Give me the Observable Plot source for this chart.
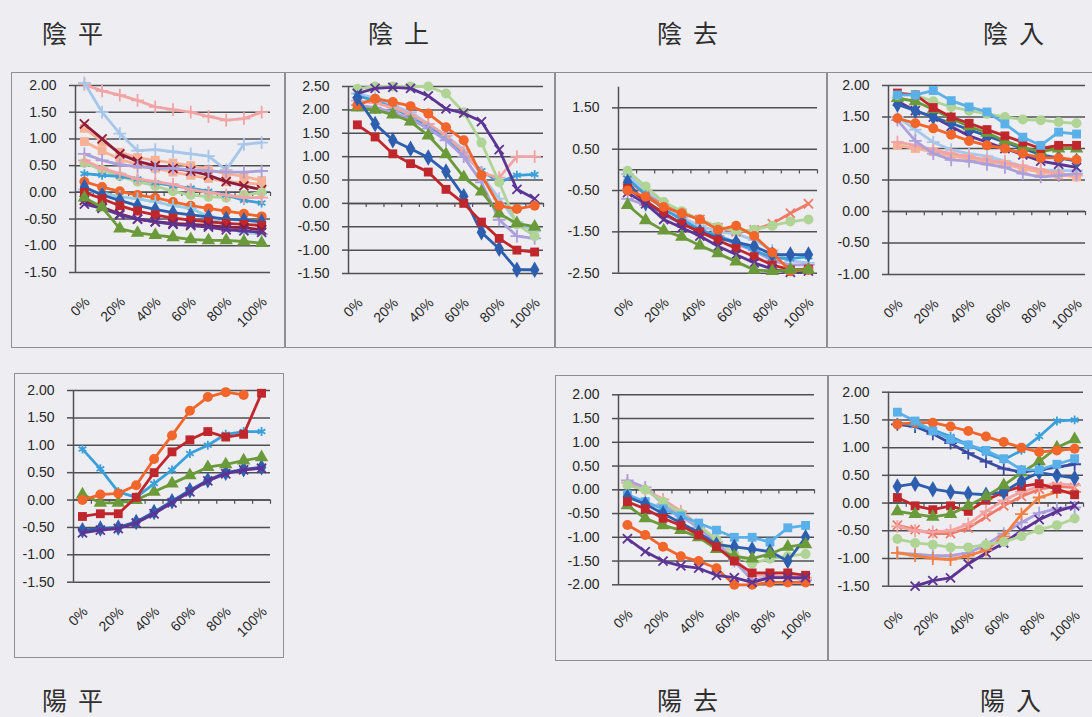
<!DOCTYPE html>
<html><head><meta charset="utf-8">
<script src="https://cdn.jsdelivr.net/npm/d3@7"></script>
<script src="https://cdn.jsdelivr.net/npm/@observablehq/plot@0.6"></script>
<style>
html,body{margin:0;padding:0}
body{background:#eeeef2;width:1092px;height:717px;overflow:hidden;position:relative;font-family:"Liberation Sans",Arial,sans-serif}
.panel{position:absolute;outline:1px solid #8f8f94}
.panel svg{display:block}
.title{position:absolute;font-family:"Noto Sans CJK TC","Noto Sans CJK JP",sans-serif;font-size:25px;line-height:25px;letter-spacing:11px;color:#2e2e2e;white-space:nowrap}
</style></head><body>
<script>
// ---- data ----
const toneNames = ["陰平","陰上","陰去","陰入","陽平","陽去","陽入"];
const xLabels = ["0%","10%","20%","30%","40%","50%","60%","70%","80%","90%","100%"];
const xLabelIdx = [0, 2, 4, 6, 8, 10];
const catEdges = [0.5, 1.5, 2.5, 3.5, 4.5, 5.5, 6.5, 7.5, 8.5, 9.5, 10.5];

const yinPingKeys = ["pink","ltblue","peach","peach","maroon","lavender","ltgreen","aqua","pink","orange","ltaqua","blue","red","maroon","purple","green"];
const yinPingValues = [
  [2.02, 1.9, 1.82, 1.72, 1.6, 1.55, 1.5, 1.42, 1.35, 1.38, 1.5],
  [2.05, 1.5, 1.1, 0.78, 0.8, 0.76, 0.72, 0.68, 0.42, 0.9, 0.93],
  [1.2, 0.95, 0.75, 0.65, 0.6, 0.55, 0.5, 0.42, 0.35, 0.3, 0.22],
  [0.95, 0.78, 0.62, 0.52, 0.45, 0.38, 0.32, 0.26, 0.2, 0.18, 0.15],
  [1.28, 1.0, 0.72, 0.58, 0.5, 0.45, 0.4, 0.32, 0.2, 0.12, 0.05],
  [0.72, 0.6, 0.52, 0.48, 0.45, 0.45, 0.42, 0.4, 0.38, 0.38, 0.4],
  [0.55, 0.42, 0.3, 0.2, 0.12, 0.02, -0.05, -0.08, -0.1, -0.05, 0.0],
  [0.35, 0.32, 0.3, 0.25, 0.18, 0.12, 0.08, 0.02, -0.05, -0.15, -0.2],
  [0.6, 0.45, 0.35, 0.25, 0.2, 0.15, 0.05, 0.0, -0.05, -0.1, -0.1],
  [0.2, 0.1, 0.02, -0.05, -0.1, -0.18, -0.25, -0.3, -0.35, -0.4, -0.45],
  [0.05, -0.02, -0.08, -0.12, -0.18, -0.25, -0.3, -0.45, -0.6, -0.75, -0.78],
  [0.1, -0.05, -0.15, -0.25, -0.32, -0.38, -0.42, -0.46, -0.5, -0.52, -0.55],
  [0.0, -0.12, -0.25, -0.35, -0.42, -0.48, -0.52, -0.55, -0.58, -0.6, -0.62],
  [-0.15, -0.28, -0.4, -0.5, -0.55, -0.58, -0.6, -0.62, -0.65, -0.66, -0.7],
  [-0.22, -0.3, -0.42, -0.5, -0.55, -0.6, -0.62, -0.65, -0.7, -0.72, -0.75],
  [-0.1, -0.28, -0.68, -0.76, -0.8, -0.84, -0.88, -0.9, -0.9, -0.92, -0.95]
];

const yinShangKeys = ["ltblue","aqua","pink","lavender","ltgreen","green","purple","orange","blue","red"];
const yinShangValues = [
  [2.35, 2.25, 2.1, 1.95, 1.7, 1.45, 1.15, 0.6, 0.1, -0.4, -0.6],
  [2.3, 2.2, 2.05, 1.85, 1.65, 1.4, 1.05, 0.7, 0.45, 0.6, 0.62],
  [2.2, 2.15, 2.05, 1.9, 1.7, 1.45, 1.1, 0.65, 0.55, 1.0, 1.0],
  [2.1, 2.05, 1.95, 1.8, 1.6, 1.35, 1.0, 0.45, -0.35, -0.7, -0.75],
  [2.45, 2.5, 2.5, 2.5, 2.5, 2.35, 1.95, 1.3, 0.45, -0.45, -0.7],
  [2.05, 2.0, 1.9, 1.75, 1.45, 1.05, 0.56, 0.25, -0.22, -0.43, -0.5],
  [2.35, 2.46, 2.48, 2.46, 2.3, 2.02, 1.93, 1.75, 1.15, 0.3, 0.1],
  [2.1, 2.24, 2.17, 2.08, 1.92, 1.63, 1.35, 0.6, -0.05, -0.12, -0.05],
  [2.25, 1.7, 1.35, 1.17, 0.98, 0.68, 0.15, -0.62, -0.97, -1.42, -1.42],
  [1.68, 1.42, 1.06, 0.85, 0.67, 0.3, 0.0, -0.4, -0.75, -1.0, -1.04]
];

const yinQuKeys = ["ltblue","lavender","salmon","ltgreen","aqua","blue","red","purple","orange","green"];
const yinQuValues = [
  [-0.1, -0.5, -0.85, -1.15, -1.35, -1.5, -1.55, -1.7, -1.95, -2.2, -2.25],
  [-0.7, -0.85, -1.1, -1.3, -1.45, -1.6, -1.8, -1.95, -2.2, -2.3, -2.3],
  [-0.25, -0.6, -0.85, -1.05, -1.2, -1.4, -1.5, -1.45, -1.3, -1.05, -0.82],
  [-0.02, -0.4, -0.78, -1.0, -1.2, -1.38, -1.48, -1.45, -1.35, -1.25, -1.2],
  [-0.2, -0.6, -0.95, -1.2, -1.45, -1.6, -1.75, -1.95, -2.12, -2.15, -2.1],
  [-0.3, -0.8, -1.05, -1.3, -1.5, -1.65, -1.75, -1.85, -2.05, -2.05, -2.05],
  [-0.45, -0.75, -1.05, -1.3, -1.5, -1.7, -1.9, -2.1, -2.3, -2.42, -2.4],
  [-0.55, -0.82, -1.2, -1.4, -1.6, -1.85, -2.05, -2.25, -2.4, -2.48, -2.45],
  [-0.5, -0.65, -0.9, -1.05, -1.2, -1.45, -1.35, -1.6, -2.0, -2.45, -2.42],
  [-0.85, -1.22, -1.47, -1.62, -1.83, -2.02, -2.22, -2.42, -2.45, -2.42, -2.42]
];

const yinRuKeys = ["ltblue","peach","pink","lavender","purple","blue","green","ltgreen","red","skysq","orange"];
const yinRuValues = [
  [1.5, 1.3, 1.1, 0.98, 0.92, 0.88, 0.8, 0.72, 0.66, 0.65, 0.65],
  [1.05, 1.0, 0.95, 0.88, 0.84, 0.8, 0.75, 0.68, 0.62, 0.58, 0.55],
  [1.1, 1.05, 0.98, 0.92, 0.87, 0.82, 0.77, 0.72, 0.66, 0.6, 0.57],
  [1.45, 1.12, 0.92, 0.82, 0.8, 0.75, 0.7, 0.6, 0.55, 0.57, 0.6],
  [1.75, 1.6, 1.5, 1.35, 1.2, 1.1, 1.0, 0.9, 0.8, 0.75, 0.7],
  [1.7, 1.6, 1.5, 1.4, 1.3, 1.2, 1.1, 1.0, 0.9, 0.85, 0.8],
  [1.8, 1.75, 1.62, 1.48, 1.35, 1.25, 1.12, 1.02, 0.95, 1.0, 1.0],
  [1.85, 1.85, 1.75, 1.66, 1.6, 1.55, 1.5, 1.46, 1.45, 1.42, 1.4],
  [1.88, 1.85, 1.65, 1.5, 1.4, 1.3, 1.2, 1.1, 1.0, 1.05, 1.05],
  [1.85, 1.85, 1.92, 1.76, 1.66, 1.58, 1.39, 1.18, 1.05, 1.26, 1.23],
  [1.48, 1.4, 1.32, 1.22, 1.12, 1.05, 1.0, 0.92, 0.85, 0.85, 0.82]
];

const yangPingKeys = ["blue","purple","green","aqua","orange","red"];
const yangPingValues = [
  [-0.55, -0.52, -0.5, -0.4, -0.22, -0.02, 0.18, 0.36, 0.5, 0.56, 0.6],
  [-0.6, -0.55, -0.52, -0.42, -0.25, -0.05, 0.15, 0.35, 0.48, 0.55, 0.58],
  [0.1, -0.05, -0.05, 0.0, 0.15, 0.3, 0.45, 0.6, 0.65, 0.72, 0.78],
  [0.93, 0.57, 0.15, 0.05, 0.3, 0.55, 0.85, 1.0, 1.2, 1.25, 1.25],
  [0.0, 0.1, 0.12, 0.27, 0.75, 1.18, 1.63, 1.88, 1.97, 1.92, null],
  [-0.3, -0.25, -0.25, 0.05, 0.5, 0.88, 1.1, 1.25, 1.15, 1.2, 1.95]
];

const yangQuKeys = ["pink","lavender","ltgreen","skysq","blue","green","red","orange","purple"];
const yangQuValues = [
  [0.15, 0.0, -0.2, -0.45, -0.75, -1.1, -1.45, -1.8, -1.8, -1.82, -1.85],
  [0.2, 0.05, -0.3, -0.55, -0.8, -1.1, -1.5, -1.9, -1.85, -1.85, -1.9],
  [0.1, 0.0, -0.25, -0.5, -0.75, -1.05, -1.35, -1.55, -1.45, -1.4, -1.35],
  [-0.1, -0.25, -0.4, -0.55, -0.7, -0.85, -1.0, -1.0, -1.1, -0.8, -0.75],
  [-0.15, -0.3, -0.5, -0.7, -0.9, -1.15, -1.2, -1.25, -1.3, -1.5, -1.0],
  [-0.33, -0.6, -0.75, -0.85, -1.0, -1.25, -1.4, -1.45, -1.35, -1.2, -1.15],
  [-0.25, -0.4, -0.6, -0.75, -0.95, -1.2, -1.5, -1.75, -1.75, -1.75, -1.8],
  [-0.74, -0.95, -1.2, -1.4, -1.5, -1.65, -2.0, -2.0, -1.95, -1.95, -1.95],
  [-1.03, -1.3, -1.5, -1.6, -1.65, -1.8, -1.85, -1.95, -1.85, -1.85, -1.85]
];

const yangRuKeys = ["lavender","purple","orange2","ltgreen","salmon","pink","red","blue","green","dkblue","aqua","orange","skysq"];
const yangRuValues = [
  [-0.9, -0.92, -0.95, -0.95, -0.9, -0.75, -0.55, -0.35, -0.18, -0.1, -0.08],
  [null, -1.5, -1.4, -1.35, -1.1, -0.9, -0.72, -0.5, -0.3, -0.15, -0.05],
  [-0.9, -0.95, -1.0, -1.02, -0.95, -0.85, -0.6, -0.2, 0.1, 0.2, 0.2],
  [-0.65, -0.72, -0.75, -0.8, -0.8, -0.75, -0.7, -0.6, -0.48, -0.4, -0.28],
  [-0.4, -0.48, -0.55, -0.55, -0.45, -0.25, -0.05, 0.12, 0.25, 0.3, 0.28],
  [-0.42, -0.5, -0.52, -0.5, -0.38, -0.15, 0.05, 0.2, 0.3, 0.35, 0.32],
  [0.1, -0.05, -0.12, -0.05, -0.15, 0.05, 0.2, 0.3, 0.35, 0.25, 0.15],
  [0.3, 0.35, 0.25, 0.2, 0.17, 0.15, 0.2, 0.4, 0.55, 0.5, 0.45],
  [-0.15, -0.2, -0.25, -0.2, -0.05, 0.12, 0.32, 0.55, 0.75, 1.0, 1.15],
  [1.42, 1.38, 1.25, 1.08, 0.9, 0.75, 0.62, 0.56, 0.6, 0.65, 0.7],
  [1.45, 1.4, 1.32, 1.2, 1.05, 0.9, 0.78, 0.95, 1.2, 1.48, 1.5],
  [1.42, 1.45, 1.45, 1.38, 1.3, 1.2, 1.1, 1.0, 0.92, 0.95, 0.98],
  [1.64, 1.48, 1.3, 1.15, 1.05, 0.95, 0.8, 0.6, 0.6, 0.7, 0.8]
];

const ticksA = [-1.5, -1, -0.5, 0, 0.5, 1, 1.5, 2];
const ticksB = [-1.5, -1, -0.5, 0, 0.5, 1, 1.5, 2, 2.5];
const ticksC = [-2.5, -1.5, -0.5, 0.5, 1.5];
const ticksD = [-1, -0.5, 0, 0.5, 1, 1.5, 2];
const ticksE = [-2, -1.5, -1, -0.5, 0, 0.5, 1, 1.5, 2];

// ---- styles ----
const palette = {
  blue: ["#2e5fae", "diamond"], red: ["#c0272d", "square"], green: ["#6b9a3a", "triangle"],
  purple: ["#5c3494", "times"], aqua: ["#3aa0da", "asterisk"], orange: ["#f2652b", "circle"],
  ltblue: ["#a6c6ea", "plus"], pink: ["#f2a4a4", "plus"], ltgreen: ["#b0d495", "circle"],
  lavender: ["#ab9fdc", "plus"], ltaqua: ["#92cde8", "plus"], peach: ["#f7b196", "square"],
  maroon: ["#8c1d3a", "times"], salmon: ["#f07a68", "times"], dkblue: ["#3a4aa0", "plus"],
  skysq: ["#5ab0e8", "square"], orange2: ["#f28040", "plus"]
};

// ---- layout ----
const panels = [
  {keys: yinPingKeys, values: yinPingValues, frame: [12, 73, 273, 274], plot: [75, 270, 85, 272], y: [-1.5, 2], ticks: ticksA},
  {keys: yinShangKeys, values: yinShangValues, frame: [285, 73, 270, 274], plot: [348, 543, 86, 273], y: [-1.5, 2.5], ticks: ticksB},
  {keys: yinQuKeys, values: yinQuValues, frame: [555, 73, 272, 274], plot: [618, 817, 86.7, 272.7], y: [-2.5, 2], ticks: ticksC},
  {keys: yinRuKeys, values: yinRuValues, frame: [827, 73, 272, 274], plot: [888, 1085, 85, 274], y: [-1, 2], ticks: ticksD},
  {keys: yangPingKeys, values: yangPingValues, frame: [15, 374, 268, 283], plot: [73, 270, 390, 581.7], y: [-1.5, 2], ticks: ticksA},
  {keys: yangQuKeys, values: yangQuValues, frame: [556, 376, 272, 284], plot: [618, 814, 394.3, 584.3], y: [-2, 2], ticks: ticksE},
  {keys: yangRuKeys, values: yangRuValues, frame: [828, 376, 272, 284], plot: [888, 1083, 391.7, 585.7], y: [-1.5, 2], ticks: ticksA}
];

const titles = [
  {t: toneNames[0], x: 42, y: 20}, {t: toneNames[1], x: 368, y: 20}, {t: toneNames[2], x: 657, y: 20}, {t: toneNames[3], x: 983, y: 20},
  {t: toneNames[4], x: 42, y: 687}, {t: toneNames[5], x: 657, y: 687}, {t: toneNames[6], x: 980, y: 687}
];

const axisColor = "#505054";

function drawPanel(p) {
  const [fx, fy, fw, fh] = p.frame;
  const [x0, x1, y0, y1] = p.plot;
  const tickLen = (p.y[1] - p.y[0]) * 0.022;
  const marks = [
    Plot.gridY(p.ticks, {stroke: axisColor, strokeOpacity: 1, strokeWidth: 1.5}),
    Plot.axisY(p.ticks, {tickSize: 6, tickPadding: 13, tickFormat: d => d.toFixed(2), stroke: axisColor, strokeWidth: 1.5, fill: "#262626", label: null}),
    Plot.ruleX([-0.5], {stroke: axisColor, strokeWidth: 1.5}),
    Plot.ruleY([0], {stroke: axisColor, strokeWidth: 1.5}),
    Plot.ruleX(catEdges, {y1: 0, y2: -tickLen, stroke: axisColor, strokeWidth: 1.2}),
    Plot.text(xLabelIdx, {x: d => d, text: d => xLabels[d], frameAnchor: "bottom", rotate: -45, textAnchor: "end", lineAnchor: "middle", dy: 27, dx: 3, fill: "#262626"})
  ];
  p.keys.forEach((k, si) => {
    const [color, sym] = palette[k];
    const rows = p.values[si].map((v, i) => ({i, v}));
    const stroked = ["times", "asterisk", "plus"].includes(sym);
    marks.push(Plot.line(rows, {x: "i", y: "v", stroke: color, strokeWidth: 2.8}));
    marks.push(Plot.dot(rows, {x: "i", y: "v", symbol: sym, r: stroked ? 4.2 : 5,
      fill: stroked ? "none" : color, stroke: stroked ? color : "none", strokeWidth: 1.8}));
  });
  const svg = Plot.plot({
    width: fw, height: fh,
    marginLeft: x0 - fx, marginRight: fx + fw - x1, marginTop: y0 - fy, marginBottom: fy + fh - y1,
    x: {domain: [-0.5, 10.5], axis: null},
    y: {domain: p.y},
    style: {background: "transparent", fontFamily: "Liberation Sans, Arial, sans-serif", fontSize: "14px", color: "#262626", overflow: "visible"},
    marks
  });
  const div = document.createElement("div");
  div.className = "panel";
  div.style.left = fx + "px"; div.style.top = fy + "px";
  div.style.width = fw + "px"; div.style.height = fh + "px";
  div.appendChild(svg);
  document.body.appendChild(div);
}

panels.forEach(drawPanel);

titles.forEach(d => {
  const el = document.createElement("div");
  el.className = "title";
  el.textContent = d.t;
  el.style.left = d.x + "px"; el.style.top = d.y + "px";
  document.body.appendChild(el);
});
</script>
</body></html>
